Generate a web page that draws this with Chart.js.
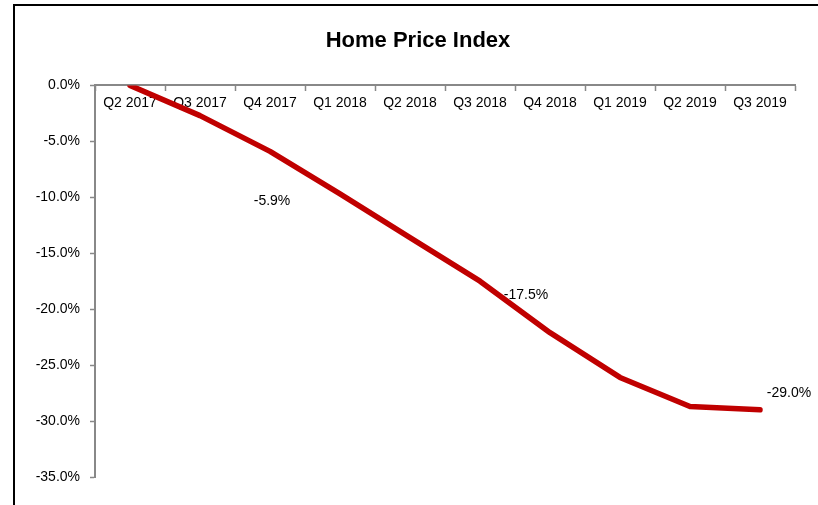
<!DOCTYPE html>
<html>
<head>
<meta charset="utf-8">
<script src="https://cdn.jsdelivr.net/npm/chart.js@4.4.1/dist/chart.umd.min.js"></script>
<style>
  html, body { margin: 0; padding: 0; background: #fff; }
  #wrap { width: 818px; height: 505px; position: relative; }
</style>
</head>
<body>
<div id="wrap"><canvas id="c" width="818" height="505"></canvas></div>
<script>
const categories = ['Q2 2017', 'Q3 2017', 'Q4 2017', 'Q1 2018', 'Q2 2018', 'Q3 2018', 'Q4 2018', 'Q1 2019', 'Q2 2019', 'Q3 2019'];
const hpiValues = [0, -2.7, -5.9, -9.7, -13.6, -17.5, -22.1, -26.1, -28.7, -29.0];
const labeledIndices = [2, 5, 9];
const yTicks = [0, -5, -10, -15, -20, -25, -30, -35];

const FONT = '"Liberation Sans", Arial, Helvetica, sans-serif';

const framePlugin = {
  id: 'frame',
  beforeDraw(chart) {
    const ctx = chart.ctx;
    ctx.save();
    ctx.fillStyle = '#fff';
    ctx.fillRect(0, 0, chart.width, chart.height);
    ctx.fillStyle = '#000';
    ctx.fillRect(13, 4, 2, chart.height - 4);
    ctx.fillRect(13, 4, chart.width - 13, 2);
    ctx.restore();
  }
};

const pointLabelPlugin = {
  id: 'pointLabels',
  afterDatasetsDraw(chart, args, opts) {
    const ctx = chart.ctx;
    const meta = chart.getDatasetMeta(0);
    ctx.save();
    ctx.font = '14px ' + FONT;
    ctx.fillStyle = '#000';
    ctx.textAlign = 'center';
    ctx.textBaseline = 'middle';
    opts.indices.forEach((idx, k) => {
      const el = meta.data[idx];
      const off = opts.offsets[k];
      ctx.fillText(hpiValues[idx].toFixed(1) + '%', el.x + off[0], el.y + off[1]);
    });
    ctx.restore();
  }
};

new Chart(document.getElementById('c'), {
  type: 'line',
  data: {
    labels: categories,
    datasets: [{
      data: hpiValues,
      borderColor: '#C00000',
      borderWidth: 5.5,
      borderCapStyle: 'round',
      borderJoinStyle: 'round',
      pointRadius: 0,
      tension: 0,
      fill: false
    }]
  },
  options: {
    responsive: false,
    animation: false,
    devicePixelRatio: 1,
    layout: { padding: { left: 18, right: 0, top: 0, bottom: 28 } },
    plugins: {
      legend: { display: false },
      tooltip: { enabled: false },
      title: {
        display: true,
        text: 'Home Price Index',
        color: '#000',
        font: { family: FONT, size: 22, weight: 'bold', lineHeight: 1.2 },
        padding: { top: 28, bottom: 31 }
      },
      pointLabels: {
        indices: labeledIndices,
        offsets: [[2, 50], [46, 14], [29, -17]]
      }
    },
    scales: {
      x: {
        type: 'category',
        position: { y: 0 },
        offset: true,
        grid: { display: true, offset: true, drawOnChartArea: false, drawTicks: true, tickLength: 5, tickColor: '#888', tickWidth: 1.5 },
        border: { display: true, color: '#888', width: 2 },
        ticks: { color: '#000', font: { family: FONT, size: 14 }, maxRotation: 0, autoSkip: false, padding: 4 },
        afterFit(s) { s.height = 28; }
      },
      y: {
        min: -35,
        max: 0,
        afterBuildTicks(s) { s.ticks = yTicks.map(v => ({ value: v })); },
        grid: { display: true, drawOnChartArea: false, drawTicks: true, tickLength: 5, tickColor: '#888', tickWidth: 1.5 },
        border: { display: true, color: '#888', width: 2 },
        ticks: { color: '#000', font: { family: FONT, size: 14 }, padding: 10, callback: v => Number(v).toFixed(1) + '%' },
        afterFit(s) { s.width = 77; }
      },
      yRight: {
        position: 'right',
        display: true,
        grid: { display: false, drawTicks: false },
        border: { display: false },
        ticks: { display: false },
        afterFit(s) { s.width = 23; }
      }
    }
  },
  plugins: [framePlugin, pointLabelPlugin]
});
</script>
</body>
</html>
